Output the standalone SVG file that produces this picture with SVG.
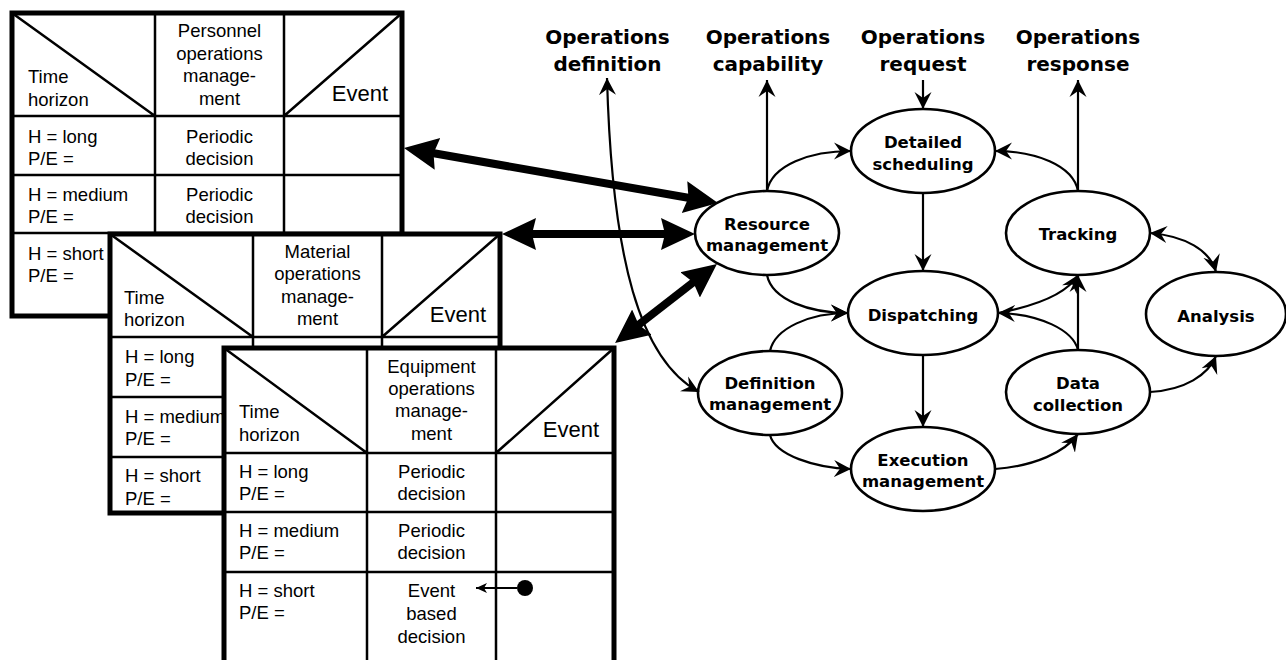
<svg xmlns="http://www.w3.org/2000/svg" width="1286" height="660" viewBox="0 0 1286 660">
<style>
.tb{fill:#fff;stroke:#000;stroke-width:5}
.tl{stroke:#000;stroke-width:2.5;fill:none}
.tt{font-family:"Liberation Sans",Arial,sans-serif;font-size:18.5px;fill:#000}
.tc{text-anchor:middle}
.ev{font-size:22px;text-anchor:end}
.el{fill:#fff;stroke:#000;stroke-width:2.6}
.et{font-family:"DejaVu Sans",Verdana,sans-serif;font-weight:bold;font-size:16.5px;text-anchor:middle;fill:#000}
.lb{font-family:"DejaVu Sans",Verdana,sans-serif;font-weight:bold;font-size:20px;text-anchor:middle;fill:#000}
.c{stroke:#000;stroke-width:2.2;fill:none;marker-end:url(#a)}
.cc{stroke:#000;stroke-width:2.2;fill:none;marker-start:url(#a);marker-end:url(#a)}
.tk{stroke:#000;stroke-width:8;fill:none;marker-start:url(#big);marker-end:url(#big)}
</style>
<defs>
<marker id="a" markerUnits="userSpaceOnUse" markerWidth="20" markerHeight="20" viewBox="0 -10 20 20" refX="17" refY="0" orient="auto-start-reverse"><path d="M17,0 L0,-8.5 L6,0 L0,8.5 Z" fill="#000"/></marker>
<marker id="s" markerUnits="userSpaceOnUse" markerWidth="12" markerHeight="12" viewBox="0 -6 12 12" refX="11" refY="0" orient="auto"><path d="M11,0 L0,-5 L3,0 L0,5 Z" fill="#000"/></marker>
<marker id="big" markerUnits="userSpaceOnUse" markerWidth="40" markerHeight="40" viewBox="0 -20 40 40" refX="8" refY="0" orient="auto-start-reverse"><path d="M34,0 L0,-16 L4,0 L0,16 Z" fill="#000"/></marker>
</defs>

<g id="personnel-table">
<rect class="tb" x="12" y="13" width="390" height="303"/>
<path class="tl" d="M155,13V316M284,13V316M12,116H402M12,175H402M12,233H402M12,13L155,116M284,116L402,13"/>
<g class="tt">
<text x="28" y="83">Time</text><text x="28" y="106">horizon</text>
<text class="tc" x="219.5" y="37">Personnel</text><text class="tc" x="219.5" y="59.5">operations</text><text class="tc" x="219.5" y="82">manage-</text><text class="tc" x="219.5" y="104.5">ment</text>
<text class="ev" x="388" y="101">Event</text>
<text x="28" y="143">H = long</text><text x="28" y="165">P/E =</text>
<text class="tc" x="219.5" y="143">Periodic</text><text class="tc" x="219.5" y="165">decision</text>
<text x="28" y="201">H = medium</text><text x="28" y="223">P/E =</text>
<text class="tc" x="219.5" y="201">Periodic</text><text class="tc" x="219.5" y="223">decision</text>
<text x="28" y="260">H = short</text><text x="28" y="282">P/E =</text>
</g>
</g>

<g id="material-table">
<rect class="tb" x="110" y="234" width="390" height="279"/>
<path class="tl" d="M253,234V513M382,234V513M110,337H500M110,397H500M110,457H500M110,234L253,337M382,337L500,234"/>
<g class="tt">
<text x="124" y="304">Time</text><text x="124" y="326">horizon</text>
<text class="tc" x="317.5" y="258">Material</text><text class="tc" x="317.5" y="280">operations</text><text class="tc" x="317.5" y="303">manage-</text><text class="tc" x="317.5" y="325">ment</text>
<text class="ev" x="486" y="322">Event</text>
<text x="125" y="363">H = long</text><text x="125" y="386">P/E =</text>
<text x="125" y="423">H = medium</text><text x="125" y="445">P/E =</text>
<text x="125" y="482">H = short</text><text x="125" y="505">P/E =</text>
</g>
</g>

<g id="equipment-table">
<rect class="tb" x="224" y="348" width="390" height="330"/>
<path class="tl" d="M367,348V670M496,348V670M224,453H614M224,512H614M224,572H614M224,348L367,453M496,453L614,348"/>
<g class="tt">
<text x="239" y="418">Time</text><text x="239" y="441">horizon</text>
<text class="tc" x="431.5" y="373">Equipment</text><text class="tc" x="431.5" y="395">operations</text><text class="tc" x="431.5" y="417">manage-</text><text class="tc" x="431.5" y="440">ment</text>
<text class="ev" x="599" y="437">Event</text>
<text x="239" y="478">H = long</text><text x="239" y="500">P/E =</text>
<text class="tc" x="431.5" y="478">Periodic</text><text class="tc" x="431.5" y="500">decision</text>
<text x="239" y="537">H = medium</text><text x="239" y="559">P/E =</text>
<text class="tc" x="431.5" y="537">Periodic</text><text class="tc" x="431.5" y="559">decision</text>
<text x="239" y="597">H = short</text><text x="239" y="619">P/E =</text>
<text class="tc" x="431.5" y="597">Event</text><text class="tc" x="431.5" y="620">based</text><text class="tc" x="431.5" y="643">decision</text>
</g>
<circle cx="525" cy="588" r="8" fill="#000"/>
<line x1="517" y1="588" x2="476" y2="588" stroke="#000" stroke-width="2" marker-end="url(#s)"/>
</g>

<g id="labels">
<text class="lb" x="607.5" y="44">Operations</text><text class="lb" x="607.5" y="71">definition</text>
<text class="lb" x="768" y="44">Operations</text><text class="lb" x="768" y="71">capability</text>
<text class="lb" x="923" y="44">Operations</text><text class="lb" x="923" y="71">request</text>
<text class="lb" x="1078" y="44">Operations</text><text class="lb" x="1078" y="71">response</text>
</g>

<g id="resource-management"><ellipse class="el" cx="767" cy="233" rx="72" ry="42"/><text class="et" x="767" y="230">Resource</text><text class="et" x="767" y="251">management</text></g>
<g id="detailed-scheduling"><ellipse class="el" cx="923" cy="151" rx="72" ry="42"/><text class="et" x="923" y="148">Detailed</text><text class="et" x="923" y="170">scheduling</text></g>
<g id="tracking"><ellipse class="el" cx="1078" cy="233" rx="72" ry="42"/><text class="et" x="1078" y="240">Tracking</text></g>
<g id="dispatching"><ellipse class="el" cx="923" cy="313" rx="75" ry="42"/><text class="et" x="923" y="321">Dispatching</text></g>
<g id="analysis"><ellipse class="el" cx="1216" cy="314" rx="70" ry="42"/><text class="et" x="1216" y="322">Analysis</text></g>
<g id="definition-management"><ellipse class="el" cx="770" cy="393" rx="72" ry="42"/><text class="et" x="770" y="389">Definition</text><text class="et" x="770" y="410">management</text></g>
<g id="data-collection"><ellipse class="el" cx="1078" cy="392" rx="72" ry="42"/><text class="et" x="1078" y="389">Data</text><text class="et" x="1078" y="411">collection</text></g>
<g id="execution-management"><ellipse class="el" cx="923" cy="469" rx="72" ry="42"/><text class="et" x="923" y="466">Execution</text><text class="et" x="923" y="487">management</text></g>

<g id="connectors">
<line class="tk" x1="429.6" y1="152.5" x2="692.4" y2="198.5"/>
<line class="tk" x1="528" y1="234" x2="669" y2="234"/>
<line class="tk" x1="635.6" y1="327.1" x2="696.4" y2="279.9"/>
<path class="cc" d="M607,78 C612,260 640,360 699,392"/>
<path class="c" d="M923,80 L923,109"/>
<path class="c" d="M767,191 L767,80"/>
<path class="c" d="M767,191 C772,165 810,151 851,151"/>
<path class="c" d="M767,275 C772,300 810,313 848,313"/>
<path class="c" d="M923,193 L923,271"/>
<path class="c" d="M1078,191 L1078,80"/>
<path class="c" d="M1078,191 C1073,165 1035,151 995,151"/>
<path class="cc" d="M1150,233 C1185,236 1210,250 1216,272"/>
<path class="c" d="M1078,350 L1078,275"/>
<path class="c" d="M1078,350 C1073,330 1040,314 998,313"/>
<path class="c" d="M998,313 C1040,305 1068,292 1078,275"/>
<path class="c" d="M770,351 C775,328 810,313 848,313"/>
<path class="c" d="M770,435 C775,455 815,468 851,469"/>
<path class="c" d="M923,355 L923,427"/>
<path class="c" d="M995,469 C1035,466 1065,452 1078,434"/>
<path class="c" d="M1150,392 C1185,390 1208,375 1216,356"/>
</g>
</svg>
